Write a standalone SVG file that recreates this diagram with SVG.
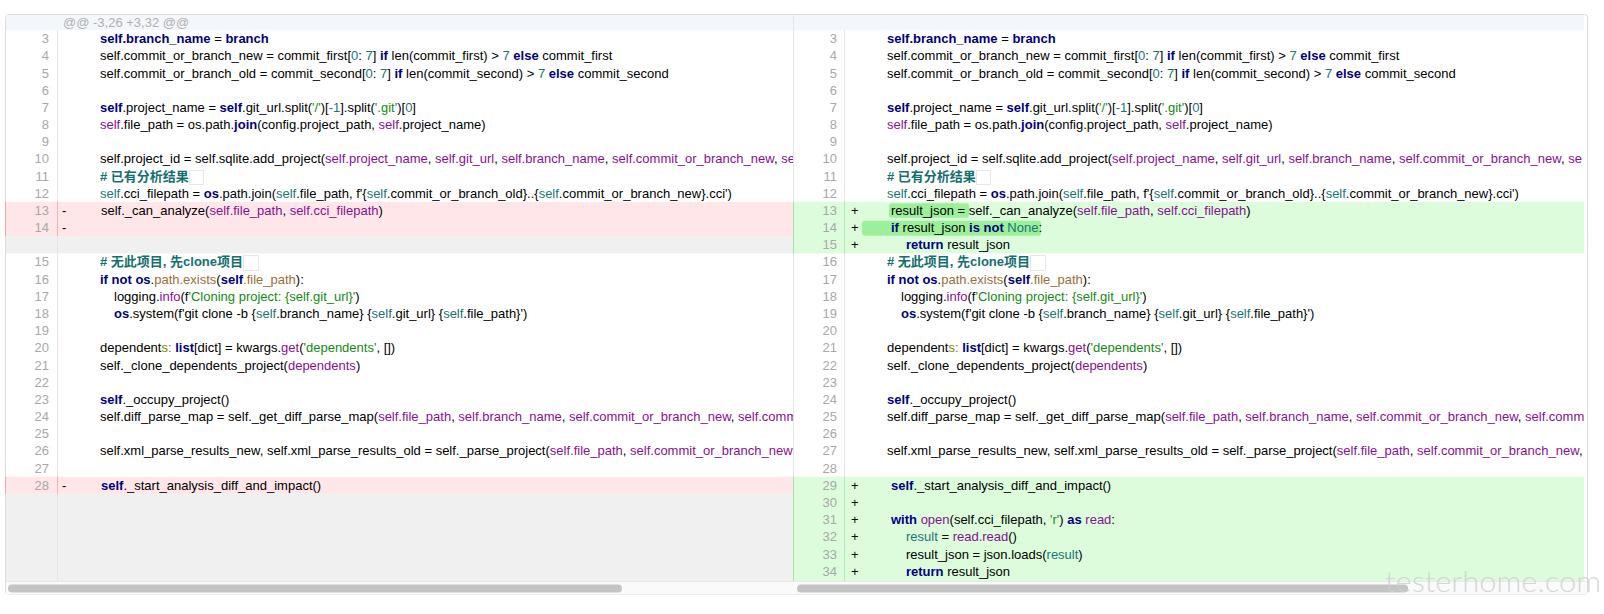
<svg xmlns="http://www.w3.org/2000/svg" width="1604" height="614" viewBox="0 0 1604 614">
<style>
.t{font-family:"Liberation Sans",Arial,"Noto Sans CJK SC",sans-serif;font-size:13px;fill:#000;white-space:pre}
.k{fill:#000080;font-weight:bold}
.p{fill:#871094}
.n{fill:#1b7575}
.g{fill:#138a13}
.b{fill:#9a6e3a}
.o{fill:#808000}
.c{fill:#13706f;font-weight:bold}
.ln{font-family:"Liberation Sans",Arial,sans-serif;font-size:13px;fill:#a8a8a8;text-anchor:end}
.sg{font-family:"Liberation Sans",Arial,sans-serif;font-size:13px;fill:#000}
.hdr{font-family:"Liberation Sans",Arial,sans-serif;font-size:13px;fill:#b0b0b0}
.del{fill:#ffe6e8}
.add{fill:#dcfcdc}
.emp{fill:#f0f0f0}
.ws{fill:none;stroke:#e6e6e6;stroke-width:1}
.thumb{fill:#c4c4c4}
</style>
<defs>
<clipPath id="clipL"><rect x="57" y="14" width="736" height="567"/></clipPath>
<clipPath id="clipR"><rect x="844" y="14" width="740" height="567"/></clipPath>
</defs>

<rect x="5.5" y="14.5" width="1582" height="580" rx="3" fill="#fff" stroke="#dcdcdc"/>

<g id="left-pane">
  <rect x="6" y="15" width="787" height="15" fill="#f3f6fa"/>
  <text class="hdr" x="63" y="27">@@ -3,26 +3,32 @@</text>
  <rect class="del" x="6" y="201.8" width="787" height="34.4"/>
  <rect class="emp" x="6" y="236.2" width="787" height="17.2"/>
  <rect class="del" x="6" y="476.7" width="787" height="17.2"/>
  <rect class="emp" x="6" y="493.9" width="787" height="87.1"/>
  <line x1="57.5" y1="30" x2="57.5" y2="581" stroke="#e6e6e6"/>
  <line x1="57.5" y1="201.8" x2="57.5" y2="236.2" stroke="#f2b3b8"/>
  <line x1="57.5" y1="476.7" x2="57.5" y2="493.9" stroke="#f2b3b8"/>
  <line x1="5.5" y1="201.8" x2="5.5" y2="236.2" stroke="#f0a6ad"/>
  <line x1="5.5" y1="476.7" x2="5.5" y2="493.9" stroke="#f0a6ad"/>
  <g class="ln">
    <text x="49" y="43.1">3</text><text x="49" y="60.3">4</text><text x="49" y="77.5">5</text>
    <text x="49" y="94.6">6</text><text x="49" y="111.8">7</text><text x="49" y="129">8</text>
    <text x="49" y="146.2">9</text><text x="49" y="163.4">10</text><text x="49" y="180.5">11</text>
    <text x="49" y="197.7">12</text><text x="49" y="214.9">13</text><text x="49" y="232.1">14</text>
    <text x="49" y="266.4">15</text><text x="49" y="283.6">16</text><text x="49" y="300.8">17</text>
    <text x="49" y="318">18</text><text x="49" y="335.2">19</text><text x="49" y="352.3">20</text>
    <text x="49" y="369.5">21</text><text x="49" y="386.7">22</text><text x="49" y="403.9">23</text>
    <text x="49" y="421.1">24</text><text x="49" y="438.2">25</text><text x="49" y="455.4">26</text>
    <text x="49" y="472.6">27</text><text x="49" y="489.8">28</text>
  </g>
  <g class="sg">
    <text x="62" y="214.9">-</text><text x="62" y="232.1">-</text><text x="62" y="489.8">-</text>
  </g>
  <rect class="ws" x="189.5" y="170.5" width="14" height="14"/>
  <rect class="ws" x="243.5" y="255.5" width="15" height="15"/>
  <g class="t" clip-path="url(#clipL)">
    <text x="100" y="43.1"><tspan class="k">self.branch_name</tspan> = <tspan class="k">branch</tspan></text>
    <text x="100" y="60.3">self.commit_or_branch_new = commit_first[<tspan class="n">0</tspan>: <tspan class="n">7</tspan>] <tspan class="k">if</tspan> len(commit_first) &gt; <tspan class="n">7</tspan> <tspan class="k">else</tspan> commit_first</text>
    <text x="100" y="77.5">self.commit_or_branch_old = commit_second[<tspan class="n">0</tspan>: <tspan class="n">7</tspan>] <tspan class="k">if</tspan> len(commit_second) &gt; <tspan class="n">7</tspan> <tspan class="k">else</tspan> commit_second</text>
    <text x="100" y="111.8"><tspan class="k">self</tspan>.project_name = <tspan class="k">self</tspan>.git_url.split(<tspan class="g">'/'</tspan>)[<tspan class="n">-1</tspan>].split(<tspan class="g">'.git'</tspan>)[<tspan class="n">0</tspan>]</text>
    <text x="100" y="129"><tspan class="p">self</tspan>.file_path = os.path.<tspan class="k">join</tspan>(config.project_path, <tspan class="p">self</tspan>.project_name)</text>
    <text x="100" y="163.4">self.project_id = self.sqlite.add_project(<tspan class="p">self.project_name</tspan>, <tspan class="p">self.git_url</tspan>, <tspan class="p">self.branch_name</tspan>, <tspan class="p">self.commit_or_branch_new</tspan>, <tspan class="p">se</tspan></text>
    <text x="100" y="180.5" class="c"># 已有分析结果</text>
    <text x="100" y="197.7"><tspan class="n">self</tspan>.cci_filepath = <tspan class="k">os</tspan>.path.join(<tspan class="n">self</tspan>.file_path, f'{<tspan class="n">self</tspan>.commit_or_branch_old}..{<tspan class="n">self</tspan>.commit_or_branch_new}.cci')</text>
    <text x="101" y="214.9">self._can_analyze(<tspan class="p">self.file_path</tspan>, <tspan class="p">self.cci_filepath</tspan>)</text>
    <text x="100" y="266.4" class="c"># 无此项目, 先clone项目</text>
    <text x="100" y="283.6"><tspan class="k">if not os</tspan>.<tspan class="b">path.exists</tspan>(<tspan class="k">self</tspan><tspan class="b">.file_path</tspan>):</text>
    <text x="114" y="300.8">logging.<tspan class="p">info</tspan>(f<tspan class="g">'Cloning project: {self.git_url}'</tspan>)</text>
    <text x="114" y="318"><tspan class="k">os</tspan>.system(f'git clone -b {<tspan class="n">self</tspan>.branch_name} {<tspan class="n">self</tspan>.git_url} {<tspan class="n">self</tspan>.file_path}')</text>
    <text x="100" y="352.3">dependent<tspan class="o">s:</tspan> <tspan class="k">list</tspan>[dict] = kwargs.<tspan class="p">get</tspan>(<tspan class="g">'dependents'</tspan>, [])</text>
    <text x="100" y="369.5">self._clone_dependents_project(<tspan class="p">dependents</tspan>)</text>
    <text x="100" y="403.9"><tspan class="k">self</tspan>._occupy_project()</text>
    <text x="100" y="421.1">self.diff_parse_map = self._get_diff_parse_map(<tspan class="p">self.file_path</tspan>, <tspan class="p">self.branch_name</tspan>, <tspan class="p">self.commit_or_branch_new</tspan>, <tspan class="p">self.comm</tspan></text>
    <text x="100" y="455.4">self.xml_parse_results_new, self.xml_parse_results_old = self._parse_project(<tspan class="p">self.file_path</tspan>, <tspan class="p">self.commit_or_branch_new</tspan>,</text>
    <text x="101" y="489.8"><tspan class="k">self</tspan>._start_analysis_diff_and_impact()</text>
  </g>
</g>

<g id="right-pane">
  <rect x="793" y="15" width="791" height="15" fill="#f3f6fa"/>
  <rect class="add" x="793" y="201.8" width="791" height="51.6"/>
  <rect class="add" x="793" y="476.7" width="791" height="104.3"/>
  <line x1="844.5" y1="30" x2="844.5" y2="581" stroke="#e6e6e6"/>
  <line x1="844.5" y1="201.8" x2="844.5" y2="253.4" stroke="#b6e8b6"/>
  <line x1="844.5" y1="476.7" x2="844.5" y2="581" stroke="#b6e8b6"/>
  <line x1="793.5" y1="14" x2="793.5" y2="581" stroke="#dfe7ef"/>
  <line x1="793.5" y1="201.8" x2="793.5" y2="253.4" stroke="#a8e2a8"/>
  <line x1="793.5" y1="476.7" x2="793.5" y2="581" stroke="#a8e2a8"/>
  <rect x="889" y="203.3" width="80" height="14.4" rx="3" fill="#9cf09a"/>
  <rect x="862" y="220.7" width="179" height="15" rx="3" fill="#9cf09a"/>
  <g class="ln">
    <text x="837" y="43.1">3</text><text x="837" y="60.3">4</text><text x="837" y="77.5">5</text>
    <text x="837" y="94.6">6</text><text x="837" y="111.8">7</text><text x="837" y="129">8</text>
    <text x="837" y="146.2">9</text><text x="837" y="163.4">10</text><text x="837" y="180.5">11</text>
    <text x="837" y="197.7">12</text><text x="837" y="214.9">13</text><text x="837" y="232.1">14</text>
    <text x="837" y="249.3">15</text><text x="837" y="266.4">16</text><text x="837" y="283.6">17</text>
    <text x="837" y="300.8">18</text><text x="837" y="318">19</text><text x="837" y="335.2">20</text>
    <text x="837" y="352.3">21</text><text x="837" y="369.5">22</text><text x="837" y="386.7">23</text>
    <text x="837" y="403.9">24</text><text x="837" y="421.1">25</text><text x="837" y="438.2">26</text>
    <text x="837" y="455.4">27</text><text x="837" y="472.6">28</text><text x="837" y="489.8">29</text>
    <text x="837" y="507">30</text><text x="837" y="524.1">31</text><text x="837" y="541.3">32</text>
    <text x="837" y="558.5">33</text><text x="837" y="575.7">34</text>
  </g>
  <g class="sg">
    <text x="851" y="214.9">+</text><text x="851" y="232.1">+</text><text x="851" y="249.3">+</text>
    <text x="851" y="489.8">+</text><text x="851" y="507">+</text><text x="851" y="524.1">+</text>
    <text x="851" y="541.3">+</text><text x="851" y="558.5">+</text><text x="851" y="575.7">+</text>
  </g>
  <rect class="ws" x="976.5" y="170.5" width="14" height="14"/>
  <rect class="ws" x="1030.5" y="255.5" width="15" height="15"/>
  <g class="t" clip-path="url(#clipR)">
    <text x="887" y="43.1"><tspan class="k">self.branch_name</tspan> = <tspan class="k">branch</tspan></text>
    <text x="887" y="60.3">self.commit_or_branch_new = commit_first[<tspan class="n">0</tspan>: <tspan class="n">7</tspan>] <tspan class="k">if</tspan> len(commit_first) &gt; <tspan class="n">7</tspan> <tspan class="k">else</tspan> commit_first</text>
    <text x="887" y="77.5">self.commit_or_branch_old = commit_second[<tspan class="n">0</tspan>: <tspan class="n">7</tspan>] <tspan class="k">if</tspan> len(commit_second) &gt; <tspan class="n">7</tspan> <tspan class="k">else</tspan> commit_second</text>
    <text x="887" y="111.8"><tspan class="k">self</tspan>.project_name = <tspan class="k">self</tspan>.git_url.split(<tspan class="g">'/'</tspan>)[<tspan class="n">-1</tspan>].split(<tspan class="g">'.git'</tspan>)[<tspan class="n">0</tspan>]</text>
    <text x="887" y="129"><tspan class="p">self</tspan>.file_path = os.path.<tspan class="k">join</tspan>(config.project_path, <tspan class="p">self</tspan>.project_name)</text>
    <text x="887" y="163.4">self.project_id = self.sqlite.add_project(<tspan class="p">self.project_name</tspan>, <tspan class="p">self.git_url</tspan>, <tspan class="p">self.branch_name</tspan>, <tspan class="p">self.commit_or_branch_new</tspan>, <tspan class="p">se</tspan></text>
    <text x="887" y="180.5" class="c"># 已有分析结果</text>
    <text x="887" y="197.7"><tspan class="n">self</tspan>.cci_filepath = <tspan class="k">os</tspan>.path.join(<tspan class="n">self</tspan>.file_path, f'{<tspan class="n">self</tspan>.commit_or_branch_old}..{<tspan class="n">self</tspan>.commit_or_branch_new}.cci')</text>
    <text x="891" y="214.9">result_json = self._can_analyze(<tspan class="p">self.file_path</tspan>, <tspan class="p">self.cci_filepath</tspan>)</text>
    <text x="891" y="232.1"><tspan class="k">if</tspan> result_json <tspan class="k">is not</tspan> <tspan class="n">None</tspan>:</text>
    <text x="906" y="249.3"><tspan class="k">return</tspan> result_json</text>
    <text x="887" y="266.4" class="c"># 无此项目, 先clone项目</text>
    <text x="887" y="283.6"><tspan class="k">if not os</tspan>.<tspan class="b">path.exists</tspan>(<tspan class="k">self</tspan><tspan class="b">.file_path</tspan>):</text>
    <text x="901" y="300.8">logging.<tspan class="p">info</tspan>(f<tspan class="g">'Cloning project: {self.git_url}'</tspan>)</text>
    <text x="901" y="318"><tspan class="k">os</tspan>.system(f'git clone -b {<tspan class="n">self</tspan>.branch_name} {<tspan class="n">self</tspan>.git_url} {<tspan class="n">self</tspan>.file_path}')</text>
    <text x="887" y="352.3">dependent<tspan class="o">s:</tspan> <tspan class="k">list</tspan>[dict] = kwargs.<tspan class="p">get</tspan>(<tspan class="g">'dependents'</tspan>, [])</text>
    <text x="887" y="369.5">self._clone_dependents_project(<tspan class="p">dependents</tspan>)</text>
    <text x="887" y="403.9"><tspan class="k">self</tspan>._occupy_project()</text>
    <text x="887" y="421.1">self.diff_parse_map = self._get_diff_parse_map(<tspan class="p">self.file_path</tspan>, <tspan class="p">self.branch_name</tspan>, <tspan class="p">self.commit_or_branch_new</tspan>, <tspan class="p">self.comm</tspan></text>
    <text x="887" y="455.4">self.xml_parse_results_new, self.xml_parse_results_old = self._parse_project(<tspan class="p">self.file_path</tspan>, <tspan class="p">self.commit_or_branch_new</tspan>,</text>
    <text x="891" y="489.8"><tspan class="k">self</tspan>._start_analysis_diff_and_impact()</text>
    <text x="891" y="524.1"><tspan class="k">with</tspan> <tspan class="p">open</tspan>(self.cci_filepath, <tspan class="g">'r'</tspan>) <tspan class="k">as</tspan> <tspan class="p">read</tspan>:</text>
    <text x="906" y="541.3"><tspan class="n">result</tspan> = <tspan class="p">read.read</tspan>()</text>
    <text x="906" y="558.5">result_json = json.loads(<tspan class="n">result</tspan>)</text>
    <text x="906" y="575.7"><tspan class="k">return</tspan> result_json</text>
  </g>
</g>

<g id="scrollbars">
  <rect x="6" y="581" width="1581" height="13.5" fill="#fafafa"/>
  <line x1="6" y1="581.5" x2="1587" y2="581.5" stroke="#e8e8e8"/>
  <rect class="thumb" x="8" y="584.5" width="614" height="8" rx="4"/>
  <rect class="thumb" x="797" y="584.5" width="611" height="8" rx="4"/>
</g>

<g id="watermark">
  <text x="1385" y="592" font-family="Lato,'Liberation Sans',sans-serif" font-weight="300" font-size="30" fill="#cfcfcf" fill-opacity="0.85" textLength="216" lengthAdjust="spacingAndGlyphs">testerhome.com</text>
</g>
</svg>
